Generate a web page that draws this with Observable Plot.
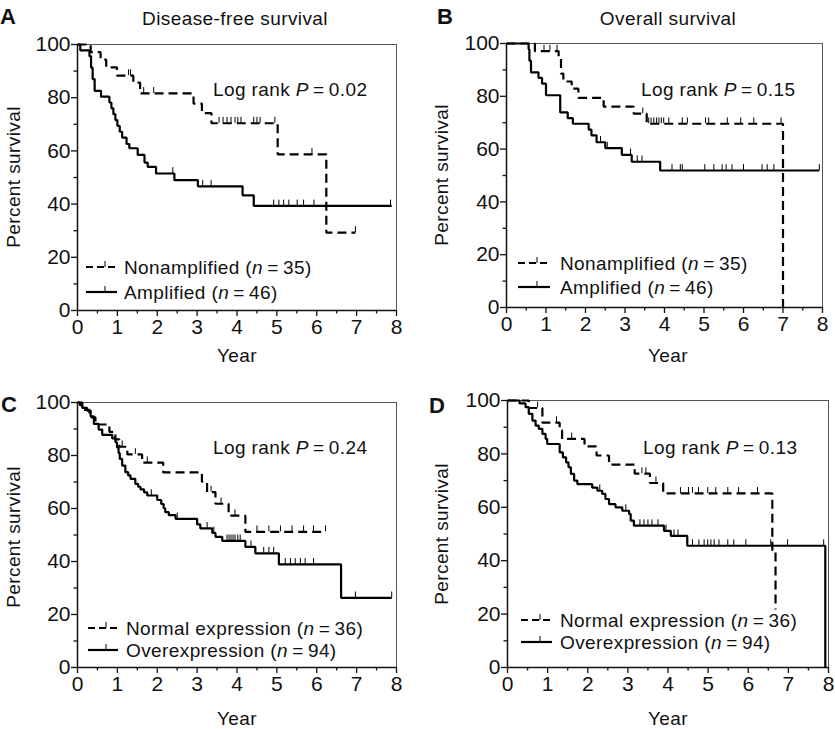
<!DOCTYPE html>
<html><head><meta charset="utf-8">
<script src="https://cdn.jsdelivr.net/npm/d3@7"></script>
<script src="https://cdn.jsdelivr.net/npm/@observablehq/plot@0.6"></script>
<style>
body{margin:0;background:#fff;}
#fig{position:relative;width:835px;height:729px;overflow:hidden;font-family:"Liberation Sans",Arial,sans-serif;color:#111;}
.t{position:absolute;white-space:nowrap;font-size:19px;line-height:1;letter-spacing:0.4px;}
.t i{font-style:italic;}
.let{font-weight:bold;font-size:22px;letter-spacing:0;}
svg.p{position:absolute;}
</style></head><body><div id="fig"></div>
<script>
// ---- tick values ----
const yearTicks = [0,1,2,3,4,5,6,7,8];
const yearMinor = [0.5,1.5,2.5,3.5,4.5,5.5,6.5,7.5];
const pctTicks = [0,20,40,60,80,100];
const pctMinor = [10,30,50,70,90];

// ---- texts ----
const panelLetters = ["A","B","C","D"];
const panelTitles = ["Disease-free survival","Overall survival"];
const logRankP = ["0.02","0.15","0.24","0.13"];
const groupAB = ["Nonamplified","Amplified"];
const nAB = [35,46];
const groupCD = ["Normal expression","Overexpression"];
const nCD = [36,94];

// ---- Panel A: disease-free survival, amplification ----
const aNonampT = [0,0.33,0.58,0.72,0.99,1.40,1.57,2.91,3.12,3.36,5.02,6.24];
const aNonampS = [100,97.1,94.3,91.4,88.3,85.7,81.6,77.8,74.2,70.4,58.7,29.3];
const aNonampEnd = 6.97;
const aNonampCens = [1.28,1.33,1.66,1.91,3.55,3.65,3.75,3.85,3.95,4.02,4.10,4.42,4.50,4.58,4.95,5.88,6.97];
const aAmpT = [0,0.07,0.30,0.34,0.38,0.43,0.59,0.80,0.85,0.90,0.95,1.00,1.06,1.12,1.23,1.30,1.51,1.68,1.76,1.97,2.43,3.02,4.14,4.42];
const aAmpS = [100,97.8,95.6,91.3,87.0,82.6,80.4,78.2,76.0,73.8,71.6,69.4,67.2,65.0,62.6,61.0,58.5,55.6,54.0,51.5,49.0,46.7,43.3,39.3];
const aAmpEnd = 7.88;
const aAmpCens = [2.39,3.14,3.35,4.92,5.05,5.17,5.30,5.51,5.67,5.93,7.85];

// ---- Panel B: overall survival, amplification ----
const bNonampT = [0,0.72,1.32,1.38,1.44,1.65,1.82,2.46,3.22,3.55,7.0];
const bNonampS = [100,97.1,94.3,88.6,85.6,82.9,79.4,76.1,73.4,69.6,0];
const bNonampEnd = null;
const bNonampCens = [0.95,1.10,1.28,3.45,3.60,3.66,3.73,3.80,3.86,3.92,3.98,4.11,4.45,4.58,5.04,5.12,5.59,5.93,6.26,6.95];
const bAmpT = [0,0.56,0.58,0.62,0.81,0.90,1.0,1.36,1.55,1.68,2.08,2.15,2.28,2.5,2.92,3.17,3.89];
const bAmpS = [100,97.8,93.5,89.1,87.0,84.8,80.4,73.9,71.7,69.6,67.4,65.2,62.6,60.4,57.8,55.2,51.9];
const bAmpEnd = 7.92;
const bAmpCens = [2.38,2.55,3.14,3.31,3.43,4.19,4.40,4.45,5.02,5.25,5.46,5.56,5.71,6.00,6.47,6.60,6.77,7.92];

// ---- Panel C: disease-free survival, expression ----
const cNormT = [0,0.12,0.30,0.45,0.80,0.95,1.05,1.25,1.62,2.15,3.12,3.25,3.46,3.79,4.21];
const cNormS = [100,97.2,94.4,91.7,88.9,86.1,83.3,80.4,77.3,73.6,70.1,66.2,61.8,57.3,51.2];
const cNormEnd = 6.22;
const cNormCens = [1.12,1.45,1.75,3.35,3.60,3.95,4.50,4.80,5.09,5.38,5.67,5.92,6.22];
const cOverT = [0,0.06,0.12,0.24,0.33,0.41,0.53,0.62,0.87,0.95,0.99,1.03,1.06,1.12,1.20,1.27,1.33,1.45,1.52,1.58,1.67,1.75,2.0,2.10,2.16,2.20,2.29,2.46,3.0,3.08,3.38,3.46,3.63,4.21,4.46,5.05,6.61];
const cOverS = [100,99.0,98.0,96.9,94.8,91.9,89.8,87.8,86.5,85.0,83.1,80.9,78.7,76.2,73.7,72.5,71.2,69.3,68.2,67.2,66.1,64.9,63.2,61.7,60.1,58.6,57.5,56.1,54.0,52.5,50.8,49.3,47.8,45.5,43.1,38.9,26.3];
const cOverEnd = 7.88;
const cOverCens = [1.85,2.50,3.25,3.42,3.75,3.80,3.85,3.90,3.95,4.02,4.08,4.35,4.67,4.80,4.92,5.21,5.34,5.46,5.59,5.71,5.92,6.97,7.88];

// ---- Panel D: overall survival, expression ----
const dNormT = [0,0.53,0.87,1.30,1.36,1.92,2.22,2.53,3.17,3.55,3.88,6.60,6.68];
const dNormS = [100,97.2,91.7,88.9,85.6,82.8,79.4,76.0,72.6,69.1,65.2,43.5,21.7];
const dNormEnd = null;
const dNormCens = [0.75,1.22,1.60,3.35,3.45,3.70,4.31,4.51,4.61,4.76,4.99,5.19,5.49,5.76,6.23];
const dOverT = [0,0.30,0.45,0.53,0.62,0.70,0.78,0.87,0.95,0.99,1.30,1.38,1.46,1.52,1.58,1.66,1.74,2.11,2.24,2.36,2.44,2.53,2.69,2.86,3.03,3.07,3.15,3.9,4.07,4.48,7.92];
const dOverS = [100,98.9,97.5,95.0,92.5,90.6,89.4,87.5,85.6,83.7,80.6,78.7,76.8,75.0,72.5,70.0,68.7,67.4,66.2,65.0,63.1,61.2,60.0,58.7,57.5,55.0,53.1,51.2,49.3,45.6,0];
const dOverEnd = null;
const dOverCens = [2.30,2.95,3.30,3.40,3.50,3.60,3.75,3.95,4.15,4.25,4.61,4.77,4.90,4.99,5.07,5.15,5.27,5.49,5.64,5.94,6.56,6.98,7.88];

// ---- helpers ----
function curvePts(T, S, end){
  const pts = T.map((t,i)=>({t, s:S[i]}));
  if (end != null) pts.push({t:end, s:S[S.length-1]});
  return pts;
}
function survAt(T, S, t){
  let s = S[0];
  for (let i=0;i<T.length;i++) if (T[i] <= t) s = S[i];
  return s;
}
function censPts(T, S, C){ return C.map(t=>({t, s:survAt(T,S,t)})); }

const fig = document.getElementById("fig");
const FONT = "'Liberation Sans', Arial, sans-serif";

function panel(cfg){
  const marks = [
    Plot.frame({stroke:"#555", strokeWidth:1}),
    Plot.axisX(yearTicks, {tickSize:6, tickPadding:3, fontSize:21, label:null, strokeWidth:1.3}),
    Plot.axisX(yearMinor, {tickSize:3.5, tickFormat:()=>"", label:null, strokeWidth:1.3}),
    Plot.axisY(pctTicks, {tickSize:6, tickPadding:1, fontSize:21, label:null, strokeWidth:1.3}),
    Plot.axisY(pctMinor, {tickSize:3.5, tickFormat:()=>"", label:null, strokeWidth:1.3}),
    Plot.ruleX([0], {stroke:"#111", strokeWidth:1.5}),
    Plot.ruleY([0], {stroke:"#111", strokeWidth:1.5})
  ];
  for (const sr of cfg.series){
    marks.push(Plot.line(curvePts(sr.T, sr.S, sr.end), {
      x:"t", y:"s", curve:"step-after", stroke:"#000", strokeWidth:2.2,
      strokeDasharray: sr.dashed ? "9,5" : null, strokeLinecap:"butt", strokeLinejoin:"miter"
    }));
    marks.push(Plot.ruleX(censPts(sr.T, sr.S, sr.C), {
      x:"t", y1:"s", y2:d=>d.s+2.2, stroke:"#000", strokeWidth:1
    }));
  }
  const svg = Plot.plot({
    width:cfg.w, height:cfg.h,
    marginLeft:cfg.ml, marginRight:cfg.mr, marginTop:cfg.mt, marginBottom:cfg.mb,
    x:{domain:[0,8], label:null},
    y:{domain:[0,100], label:null},
    style:{fontFamily:FONT, fontSize:"21px", color:"#111", background:"transparent", overflow:"visible"},
    marks
  });
  svg.classList.add("p");
  svg.style.left = cfg.left + "px";
  svg.style.top = cfg.top + "px";
  fig.appendChild(svg);
}

function addText(html, x, y, ax, ay, cls){
  const d = document.createElement("div");
  d.className = "t" + (cls ? " " + cls : "");
  d.innerHTML = html;
  d.style.left = x + "px";
  d.style.top = y + "px";
  d.style.transform = `translate(${-ax*100}%, ${-ay*100}%)`;
  fig.appendChild(d);
  return d;
}
function addRotated(html, cx, cy){
  const d = document.createElement("div");
  d.className = "t";
  d.innerHTML = html;
  d.style.left = cx + "px";
  d.style.top = cy + "px";
  d.style.transform = "translate(-50%,-50%) rotate(-90deg)";
  fig.appendChild(d);
}
function legendItem(x1, x2, y, dashed, tx, html){
  const ns = "http://www.w3.org/2000/svg";
  const s = document.createElementNS(ns, "svg");
  s.setAttribute("width", x2 - x1 + 2);
  s.setAttribute("height", 12);
  s.style.position = "absolute";
  s.style.left = x1 + "px";
  s.style.top = (y - 8) + "px";
  const l = document.createElementNS(ns, "line");
  l.setAttribute("x1", 0); l.setAttribute("x2", x2 - x1);
  l.setAttribute("y1", 8); l.setAttribute("y2", 8);
  l.setAttribute("stroke", "#000"); l.setAttribute("stroke-width", 2.2);
  if (dashed) l.setAttribute("stroke-dasharray", "7,4");
  s.appendChild(l);
  const tk = document.createElementNS(ns, "line");
  const mx = Math.round((x2 - x1) * 0.6);
  tk.setAttribute("x1", mx); tk.setAttribute("x2", mx);
  tk.setAttribute("y1", 8); tk.setAttribute("y2", 2);
  tk.setAttribute("stroke", "#000"); tk.setAttribute("stroke-width", 1);
  s.appendChild(tk);
  fig.appendChild(s);
  addText(html, tx, y, 0, 0.5);
}

// ---- panels ----
panel({left:0, top:0, w:415, h:362, ml:77, mr:19, mt:44, mb:52, series:[
  {T:aNonampT, S:aNonampS, end:aNonampEnd, C:aNonampCens, dashed:true},
  {T:aAmpT, S:aAmpS, end:aAmpEnd, C:aAmpCens, dashed:false}
]});
panel({left:415, top:0, w:420, h:362, ml:91, mr:13, mt:43, mb:55, series:[
  {T:bNonampT, S:bNonampS, end:bNonampEnd, C:bNonampCens, dashed:true},
  {T:bAmpT, S:bAmpS, end:bAmpEnd, C:bAmpCens, dashed:false}
]});
panel({left:0, top:362, w:415, h:367, ml:77, mr:19, mt:40, mb:62, series:[
  {T:cNormT, S:cNormS, end:cNormEnd, C:cNormCens, dashed:true},
  {T:cOverT, S:cOverS, end:cOverEnd, C:cOverCens, dashed:false}
]});
panel({left:415, top:362, w:420, h:367, ml:92, mr:7, mt:38, mb:62, series:[
  {T:dNormT, S:dNormS, end:dNormEnd, C:dNormCens, dashed:true},
  {T:dOverT, S:dOverS, end:dOverEnd, C:dOverCens, dashed:false}
]});

// ---- panel letters and titles ----
addText(panelLetters[0], 0, 17, 0, 0.5, "let");
addText(panelLetters[1], 437, 17, 0, 0.5, "let");
addText(panelLetters[2], 1, 405, 0, 0.5, "let");
addText(panelLetters[3], 429, 406, 0, 0.5, "let");
addText(panelTitles[0], 235, 18, 0.5, 0.5);
addText(panelTitles[1], 668, 18, 0.5, 0.5);

// ---- axis titles ----
addRotated("Percent survival", 13, 177);
addRotated("Percent survival", 441, 175);
addRotated("Percent survival", 13, 537);
addRotated("Percent survival", 441, 534);
addText("Year", 237, 355, 0.5, 0.5);
addText("Year", 668, 355, 0.5, 0.5);
addText("Year", 237, 718, 0.5, 0.5);
addText("Year", 668, 718, 0.5, 0.5);

// ---- log rank annotations ----
const lr = p => `Log rank <i>P</i>&#8201;=&#8201;${p}`;
addText(lr(logRankP[0]), 213, 89, 0, 0.5);
addText(lr(logRankP[1]), 641, 89, 0, 0.5);
addText(lr(logRankP[2]), 213, 447, 0, 0.5);
addText(lr(logRankP[3]), 643, 447, 0, 0.5);

// ---- legends ----
const lg = (g, n) => `${g} (<i>n</i>&#8201;=&#8201;${n})`;
legendItem(86, 117, 267, true, 124, lg(groupAB[0], nAB[0]));
legendItem(86, 117, 292, false, 124, lg(groupAB[1], nAB[1]));
legendItem(518, 550, 263, true, 560, lg(groupAB[0], nAB[0]));
legendItem(518, 550, 287, false, 560, lg(groupAB[1], nAB[1]));
legendItem(88, 118, 628, true, 126, lg(groupCD[0], nCD[0]));
legendItem(88, 118, 650, false, 126, lg(groupCD[1], nCD[1]));
legendItem(521, 552, 620, true, 560, lg(groupCD[0], nCD[0]));
legendItem(521, 552, 642, false, 560, lg(groupCD[1], nCD[1]));
</script>
</body></html>
